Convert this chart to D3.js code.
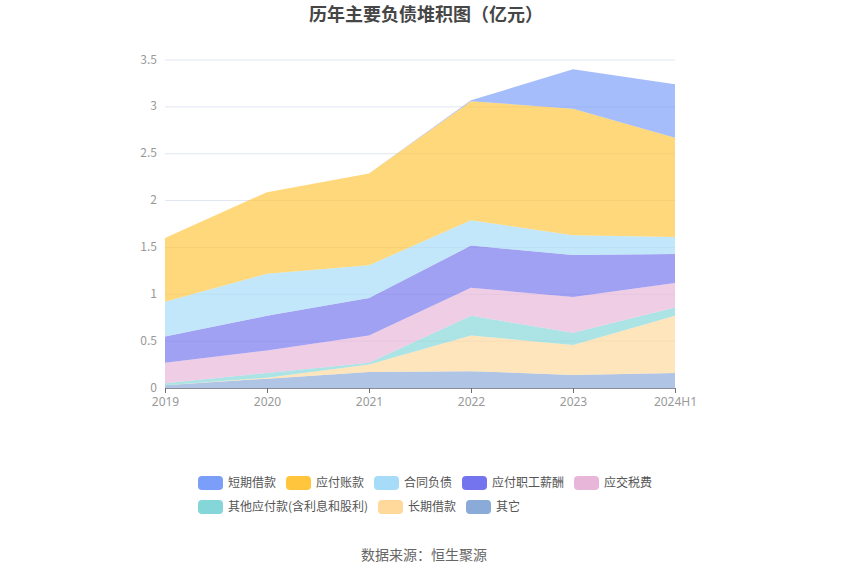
<!DOCTYPE html>
<html lang="zh">
<head>
<meta charset="utf-8">
<title>历年主要负债堆积图</title>
<script src="https://cdn.jsdelivr.net/npm/d3@7"></script>
<style>
  body { margin: 0; background: #fff; }
  text { font-family: "Noto Sans CJK SC", "Noto Sans", sans-serif; }
</style>
</head>
<body>
<script>
// categories and series (亿元)
var years = ["2019", "2020", "2021", "2022", "2023", "2024H1"];
var seriesNames = ["短期借款", "应付账款", "合同负债", "应付职工薪酬", "应交税费", "其他应付款(含利息和股利)", "长期借款", "其它"];
var shortLoan   = [0, 0, 0, 0.01, 0.42, 0.57];
var payables    = [0.68, 0.87, 0.98, 1.27, 1.35, 1.06];
var contractLia = [0.37, 0.45, 0.35, 0.27, 0.21, 0.18];
var salary      = [0.28, 0.37, 0.40, 0.45, 0.45, 0.31];
var taxes       = [0.22, 0.24, 0.29, 0.30, 0.38, 0.26];
var otherPay    = [0.02, 0.05, 0.02, 0.21, 0.13, 0.09];
var longLoan    = [0, 0.01, 0.08, 0.38, 0.32, 0.61];
var others      = [0.03, 0.10, 0.17, 0.18, 0.14, 0.16];
var yTicks = [0, 0.5, 1, 1.5, 2, 2.5, 3, 3.5];

var colors = ["#7b9ef8", "#ffc53d", "#a6dcf8", "#7474ee", "#e8b6d8", "#84d6d8", "#ffd99c", "#8aaad8"];
var allValues = [shortLoan, payables, contractLia, salary, taxes, otherPay, longLoan, others];

var W = 850, H = 575;
var margin = {top: 60, left: 165, right: 175, bottom: 187};
var w = W - margin.left - margin.right;
var h = H - margin.top - margin.bottom;

var svg = d3.select("body").append("svg")
  .attr("width", W).attr("height", H);

// build rows for stack
var table = years.map(function(y, i) {
  var row = {year: y};
  seriesNames.forEach(function(n, k) { row[n] = allValues[k][i]; });
  return row;
});
// stacking order: bottom first
var stackKeys = seriesNames.slice().reverse();
var stacked = d3.stack().keys(stackKeys)(table);

var x = d3.scalePoint().domain(years).range([0, w]);
var y = d3.scaleLinear().domain([0, 3.5]).range([h, 0]);

var g = svg.append("g").attr("transform", "translate(" + margin.left + "," + margin.top + ")");

// grid
g.selectAll(".grid").data(yTicks.slice(1)).enter().append("line")
  .attr("x1", 0).attr("x2", w)
  .attr("y1", function(d) { return y(d); }).attr("y2", function(d) { return y(d); })
  .attr("stroke", "#e0e6f1");

var area = d3.area()
  .x(function(d) { return x(d.data.year); })
  .y0(function(d) { return y(d[0]); })
  .y1(function(d) { return y(d[1]); });

g.selectAll(".layer").data(stacked).enter().append("path")
  .attr("d", area)
  .attr("fill", function(d) { return colors[seriesNames.indexOf(d.key)]; })
  .attr("fill-opacity", 0.68);

// y axis labels
g.selectAll(".ylab").data(yTicks).enter().append("text")
  .attr("x", -8).attr("y", function(d) { return y(d); })
  .attr("dy", "0.3em").attr("text-anchor", "end")
  .attr("font-size", 12).attr("fill", "#999")
  .text(function(d) { return d; });

// x axis
var xAxis = g.append("g").attr("transform", "translate(0," + h + ")")
  .call(d3.axisBottom(x).tickSize(5).tickPadding(4));
xAxis.select(".domain").attr("stroke", "#6e7079").attr("stroke-opacity", 0.8);
xAxis.selectAll(".tick line").attr("stroke", "#6e7079");
xAxis.selectAll(".tick text").attr("fill", "#999").attr("font-size", 12)
  .style("font-family", "\"Noto Sans\", sans-serif");

// title
svg.append("text")
  .attr("x", W / 2 + 1).attr("y", 21).attr("text-anchor", "middle")
  .attr("font-size", 18).attr("font-weight", "bold").attr("fill", "#464646")
  .text("历年主要负债堆积图（亿元）");

// legend
var legendPos = [[198, 483], [286, 483], [374, 483], [462, 483], [574, 483],
                 [198, 507], [378, 507], [466, 507]];
var leg = svg.selectAll(".leg").data(seriesNames).enter().append("g")
  .attr("transform", function(d, i) { return "translate(" + legendPos[i][0] + "," + legendPos[i][1] + ")"; });
leg.append("rect")
  .attr("x", 0).attr("y", -7).attr("width", 25).attr("height", 14).attr("rx", 4)
  .attr("fill", function(d, i) { return colors[i]; });
leg.append("text")
  .attr("x", 30).attr("dy", "0.35em")
  .attr("font-size", 12).attr("fill", "#555")
  .text(function(d) { return d; });

// source
svg.append("text")
  .attr("x", W / 2 - 1).attr("y", 555).attr("dy", "0.35em").attr("text-anchor", "middle")
  .attr("font-size", 14).attr("fill", "#666")
  .text("数据来源：恒生聚源");
</script>
</body>
</html>
